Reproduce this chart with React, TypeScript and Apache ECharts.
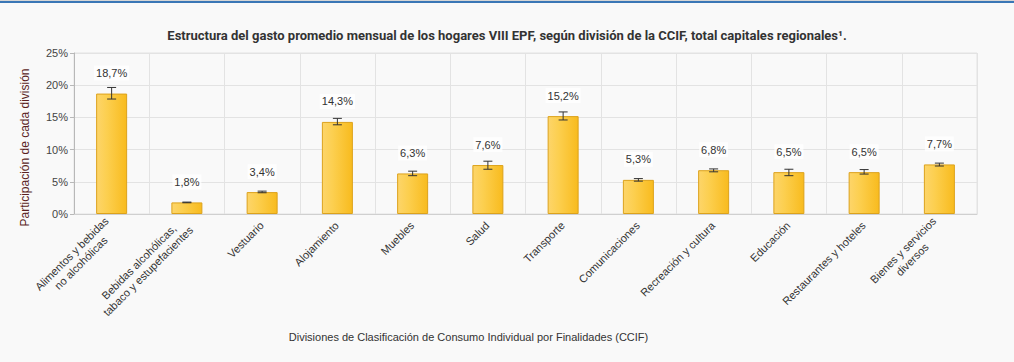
import React, { useEffect, useRef } from "react";
import * as echarts from "echarts";

const categories = [
  "Alimentos y bebidas\nno alcohólicas",
  "Bebidas alcohólicas,\ntabaco y estupefacientes",
  "Vestuario",
  "Alojamiento",
  "Muebles",
  "Salud",
  "Transporte",
  "Comunicaciones",
  "Recreación y cultura",
  "Educación",
  "Restaurantes y hoteles",
  "Bienes y servicios\ndiversos",
];
const values = [18.7, 1.8, 3.4, 14.3, 6.3, 7.6, 15.2, 5.3, 6.8, 6.5, 6.5, 7.7];
const errLow = [17.85, 1.75, 3.3, 13.85, 5.95, 6.95, 14.6, 5.1, 6.55, 5.95, 6.2, 7.45];
const errHigh = [19.65, 1.85, 3.55, 14.85, 6.65, 8.2, 15.85, 5.5, 7.0, 6.95, 6.9, 7.9];
const yTicks = [0, 5, 10, 15, 20, 25];

const TITLE =
  "Estructura del gasto promedio mensual de los hogares VIII EPF, según división de la CCIF, total capitales regionales¹.";
const X_NAME = "Divisiones de Clasificación de Consumo Individual por Finalidades (CCIF)";
const Y_NAME = "Participación de cada división";
const FONT = "'Liberation Sans', Arial, sans-serif";

export default function App() {
  const ref = useRef<HTMLDivElement>(null);
  useEffect(() => {
    if (!ref.current) return;
    const chart = echarts.init(ref.current, undefined, { renderer: "svg" });

    const canvas = document.createElement("canvas");
    const ctx = canvas.getContext("2d")!;
    ctx.font = "11px 'Liberation Sans', Arial, sans-serif";
    const rich: Record<string, any> = {};
    categories.forEach((c, i) => {
      const w = Math.max(...c.split("\n").map((l) => ctx.measureText(l).width));
      rich["c" + i] = {
        width: Math.ceil(w) + 1,
        align: "center",
        fontSize: 11,
        fontFamily: FONT,
        color: "#333",
        lineHeight: 13,
      };
    });

    const errData = categories.map((_, i) => [i, errLow[i], errHigh[i]]);

    chart.setOption({
      animation: false,
      backgroundColor: "#f9f9f9",
      title: {
        text: TITLE,
        left: "center",
        top: 24,
        textStyle: {
          fontFamily: "Roboto, 'Noto Sans', sans-serif",
          fontWeight: "bold",
          fontSize: 13,
          color: "#333",
        },
      },
      graphic: [
        { type: "rect", shape: { x: 0, y: 0, width: 1014, height: 1 }, style: { fill: "#d6d6d6" } },
        { type: "rect", shape: { x: 0, y: 1, width: 1014, height: 2 }, style: { fill: "#3a77b6" } },
      ],
      grid: {
        left: 74,
        right: 37,
        top: 53,
        bottom: 148,
        show: true,
        borderColor: "#e3e3e3",
        borderWidth: 1,
        backgroundColor: "transparent",
      },
      xAxis: {
        type: "category",
        data: categories,
        boundaryGap: true,
        name: X_NAME,
        nameLocation: "middle",
        nameGap: 117,
        nameTextStyle: {
          fontFamily: FONT,
          fontSize: 11,
          color: "#333",
          padding: [0, 114, 0, 0],
        },
        axisLine: { show: true, lineStyle: { color: "#d0d0d0" } },
        axisTick: { show: false },
        splitLine: { show: true, lineStyle: { color: "#e3e3e3", width: 1 } },
        axisLabel: {
          rotate: 45,
          margin: 9,
          interval: 0,
          formatter: (v: string, i: number) =>
            v
              .split("\n")
              .map((l) => `{c${i}|${l}}`)
              .join("\n"),
          rich,
        },
      },
      yAxis: {
        type: "value",
        min: yTicks[0],
        max: yTicks[yTicks.length - 1],
        interval: 5,
        name: Y_NAME,
        nameLocation: "middle",
        nameGap: 43,
        nameTextStyle: {
          fontFamily: FONT,
          fontSize: 12,
          color: "#5b1f1f",
          padding: [0, 28, 0, 0],
        },
        axisLine: { show: true, lineStyle: { color: "#b8b8b8" } },
        axisTick: { show: true, length: 4, lineStyle: { color: "#b8b8b8" } },
        splitLine: { show: true, lineStyle: { color: "#e3e3e3", width: 1 } },
        axisLabel: {
          formatter: "{value}%",
          fontFamily: FONT,
          fontSize: 11,
          color: "#444",
          margin: 6,
        },
      },
      series: [
        {
          type: "bar",
          data: values,
          barWidth: 31,
          itemStyle: {
            color: new echarts.graphic.LinearGradient(0, 0, 1, 0, [
              { offset: 0, color: "#fdd56a" },
              { offset: 0.35, color: "#fccf4f" },
              { offset: 1, color: "#f8bb1e" },
            ]),
            borderColor: "#dca21c",
            borderWidth: 1,
          },
          label: {
            show: true,
            position: "top",
            distance: 13,
            formatter: (p: any) => p.value.toFixed(1).replace(".", ",") + "%",
            fontFamily: FONT,
            fontSize: 11,
            color: "#333",
            backgroundColor: "rgba(255,255,255,0.75)",
            padding: [2, 2],
          },
        },
        {
          type: "custom",
          data: errData,
          z: 5,
          renderItem: (params: any, api: any) => {
            const x = api.coord([api.value(0), api.value(1)])[0];
            const lo = api.coord([api.value(0), api.value(1)])[1];
            const hi = api.coord([api.value(0), api.value(2)])[1];
            const hw = 4.5;
            const style = { stroke: "#333", lineWidth: 1 };
            return {
              type: "group",
              children: [
                { type: "line", shape: { x1: x, y1: hi, x2: x, y2: lo }, style },
                { type: "line", shape: { x1: x - hw, y1: hi, x2: x + hw, y2: hi }, style },
                { type: "line", shape: { x1: x - hw, y1: lo, x2: x + hw, y2: lo }, style },
              ],
            };
          },
        },
      ],
    });
    return () => chart.dispose();
  }, []);
  return (
    <div
      ref={ref}
      style={{ position: "fixed", left: 0, top: 0, width: 1014, height: 362 }}
    />
  );
}
